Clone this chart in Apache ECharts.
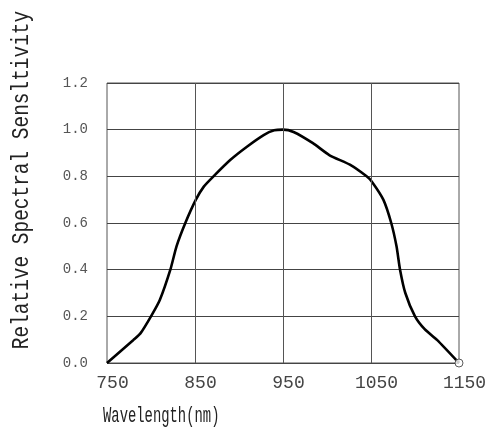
<!DOCTYPE html>
<html>
<head>
<meta charset="utf-8">
<script src="https://cdn.jsdelivr.net/npm/echarts@6/dist/echarts.min.js"></script>
<style>html,body{margin:0;padding:0;background:#fff}#c{width:487px;height:437px}</style>
</head>
<body>
<div id="c"></div>
<script>
var wavelengths = [750, 780, 788, 800, 810, 822, 829, 839, 851, 860, 871, 890, 909, 928, 940, 950, 962, 984, 1003, 1026, 1045, 1051, 1064, 1073, 1079, 1083, 1089, 1100, 1111, 1125, 1150];
var sensitivity = [0, 0.099, 0.127, 0.20, 0.27, 0.40, 0.50, 0.60, 0.70, 0.756, 0.80, 0.87, 0.927, 0.977, 0.997, 1.0, 0.99, 0.942, 0.89, 0.85, 0.80, 0.777, 0.70, 0.60, 0.50, 0.40, 0.30, 0.20, 0.145, 0.099, 0];
var xTickLabels = [750, 850, 950, 1050, 1150];
var xGridLines = [850, 950, 1050];
var yTickLabels = ['0.0', '0.2', '0.4', '0.6', '0.8', '1.0', '1.2'];
var xTitle = 'Wavelength(nm)';
var yTitle = 'Relative Spectral Sensltivity';

var chart = echarts.init(document.getElementById('c'), null, {renderer: 'canvas'});
var lineData = wavelengths.map(function (w, i) { return [w, sensitivity[i]]; });
var last = lineData[lineData.length - 1];

chart.setOption({
  animation: false,
  backgroundColor: '#fff',
  grid: {left: 107, top: 83, right: 28, bottom: 74, show: true, borderColor: '#555', borderWidth: 1, backgroundColor: 'transparent', outerBoundsMode: 'none', containLabel: false},
  xAxis: {
    type: 'value', min: 750, max: 1150, interval: 50,
    axisLine: {show: false}, axisTick: {show: false}, splitLine: {show: false},
    axisLabel: {
      margin: 11, fontFamily: 'Liberation Mono', fontSize: 18, color: '#444',
      padding: [0, 0, 0, 11], hideOverlap: false,
      formatter: function (v) { return xTickLabels.indexOf(v) >= 0 ? String(v) : ''; }
    }
  },
  yAxis: {
    type: 'value', min: 0, max: 1.2, interval: 0.2,
    axisLine: {show: false}, axisTick: {show: false},
    splitLine: {show: true, lineStyle: {color: '#444', width: 1}},
    axisLabel: {
      margin: 19, fontFamily: 'Liberation Mono', fontSize: 14, color: '#555',
      formatter: function (v) { return yTickLabels[Math.round(v / 0.2)]; }
    }
  },
  series: [
    {
      type: 'line', data: lineData, smooth: 0.2, showSymbol: false,
      lineStyle: {color: '#000', width: 2.6}, z: 3,
      markLine: {
        silent: true, symbol: 'none', label: {show: false},
        lineStyle: {color: '#555', width: 1, type: 'solid'},
        emphasis: {disabled: true},
        data: xGridLines.map(function (x) { return {xAxis: x}; })
      }
    },
    {
      type: 'scatter', data: [last], symbol: 'circle', symbolSize: 8, z: 4,
      itemStyle: {color: '#fff', borderColor: '#333', borderWidth: 1}
    }
  ],
  graphic: [
    {type: 'text', x: 103, y: 416, scaleX: 0.63, style: {text: xTitle, font: '22px "Liberation Mono"', fill: '#222', textAlign: 'left', textVerticalAlign: 'middle'}},
    {type: 'text', x: 22, y: 180, rotation: Math.PI / 2, scaleX: 0.81, style: {text: yTitle, font: '24px "Liberation Mono"', fill: '#222', textAlign: 'center', textVerticalAlign: 'middle'}}
  ]
});
</script>
</body>
</html>
